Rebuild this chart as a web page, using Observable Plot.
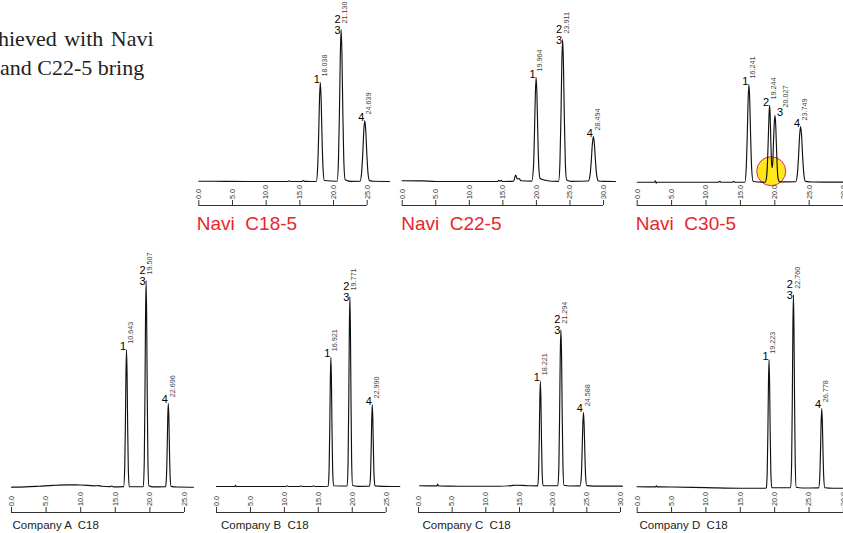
<!DOCTYPE html>
<html><head><meta charset="utf-8">
<script src="https://cdn.jsdelivr.net/npm/d3@7"></script>
<script src="https://cdn.jsdelivr.net/npm/@observablehq/plot@0.6"></script>
<style>
html,body{margin:0;padding:0;background:#fff;}
#wrap{position:relative;width:843px;height:533px;overflow:hidden;background:#fff;}
#wrap svg{position:absolute;left:0;top:0;}
.lbl{position:absolute;white-space:pre;font-family:"Liberation Sans",Arial,sans-serif;line-height:1;}
.red{color:#e8262b;font-size:19px;}
.cmp{color:#222;font-size:11.5px;}
.serif{position:absolute;font-family:"Liberation Serif","Times New Roman",serif;font-size:22px;line-height:28.5px;color:#222;white-space:pre;}
</style></head><body><div id="wrap"></div>
<script>
// ---------- data ----------
const ticks25 = [0, 5, 10, 15, 20, 25];
const ticks30 = [0, 5, 10, 15, 20, 25, 30];
const introLines = ["hieved with Navi", "and C22-5 bring"];
const panelTitles = ["Navi  C18-5", "Navi  C22-5", "Navi  C30-5"];
const companyTitles = ["Company A  C18", "Company B  C18", "Company C  C18", "Company D  C18"];

// Navi C18-5 (time min, signal)
const naviC18Trace = [[0,0.3],[4,0.2],[9,0],[13.2,0],[13.4,0.8],[13.6,0],[15.3,0],[15.5,1],[15.75,0.1],[17.44,0],
 [17.64,13.4],[17.79,45.3],[17.92,82.7],[18.038,99],[18.16,82.7],[18.29,45.3],[18.44,13.4],[18.64,1],
 [20.53,0.3],[20.73,20.5],[20.88,69.6],[21.01,126.9],[21.13,152],[21.25,126.9],[21.38,69.6],[21.53,20.5],[21.73,1.7],[22.5,0.2],
 [23.94,0.3],[24.16,8.2],[24.34,27.9],[24.5,51.5],[24.639,61],[24.78,51.5],[24.94,27.9],[25.12,8.2],[25.34,0.9],[26,0.2],[28.3,0]];
const naviC18PeakT = [18.038, 21.13, 24.639];
const naviC18PeakH = [99, 152, 61];
const naviC18Num = ["1", "2\n3", "4"];
const naviC18RT = ["18.038", "21.130", "24.639"];

// Navi C22-5
const naviC22Trace = [[0,0.8],[3,0.6],[5,0],[14.2,0],[14.4,1.2],[14.55,0.2],[14.75,1.2],[14.95,0],[16.6,0.3],[16.9,6.5],[17.15,2.5],[17.4,3],[17.7,0.8],[19.3,0.4],
 [19.56,14],[19.71,47.6],[19.84,86.8],[19.964,104],[20.08,86.8],[20.21,47.6],[20.36,14],[20.56,3],[20.9,2],[21.5,1],[22.3,0.3],
 [23.31,0.2],[23.51,19.2],[23.66,65],[23.79,118.6],[23.911,142],[24.03,118.6],[24.16,65],[24.31,19.2],[24.51,1.6],[25.2,0.2],
 [27.74,0.5],[27.99,6.1],[28.19,21.9],[28.34,37.6],[28.494,45],[28.64,37.6],[28.79,21.9],[28.99,6.1],[29.24,0.5],[30,0.1],[31.8,0]];
const naviC22PeakT = [19.964, 23.911, 28.494];
const naviC22PeakH = [104, 142, 45];
const naviC22Num = ["1", "2\n3", "4"];
const naviC22RT = ["19.964", "23.911", "28.494"];

// Navi C30-5
const naviC30Trace = [[0,0],[2.55,0],[2.65,1.5],[2.75,-1],[2.85,0],[11.8,0],[12,0.8],[12.2,0],[13.8,0],[14,0.8],[14.2,0],[15.64,0],
 [15.84,13.2],[15.99,44.7],[16.12,81.6],[16.241,97.7],[16.36,81.6],[16.49,44.7],[16.64,13.2],[16.84,1],[17.5,0.2],
 [18.6,0],[18.8,5],[18.95,22],[19.08,50],[19.18,70],[19.244,76.7],[19.32,68],[19.42,42],[19.52,20],[19.62,14.5],[19.72,22],[19.82,42],[19.93,60],[20.027,66.7],[20.12,59],[20.23,38],[20.36,14],[20.5,3],[20.7,0.3],
 [23.05,0.5],[23.27,7.5],[23.45,25.5],[23.61,47],[23.749,55.7],[23.89,47],[24.05,25.5],[24.23,7.5],[24.45,0.8],[25.5,0.2],[31,0]];
const naviC30PeakT = [16.241, 19.244, 20.027, 23.749];
const naviC30PeakH = [97.7, 76.7, 66.7, 55.7];
const naviC30Num = ["1", "2", "3", "4"];
const naviC30RT = ["16.241", "19.244", "20.027", "23.749"];
const naviC30Highlight = [{t: 19.48, v: 11}];

// Company A C18
const compATrace = [[0,0],[2,0.3],[4,1],[6,1.8],[8,2.3],[10,2.2],[12,1.4],[12.6,1.6],[13,1],[14.3,0.6],[14.5,1.2],[14.7,0.4],[16.2,0.6],
 [16.36,18.5],[16.46,64.4],[16.54,113.6],[16.62,137.4],[16.7,113.6],[16.78,64.4],[16.88,18.5],[17.02,0.5],
 [19.05,0.5],[19.19,27.9],[19.29,96.9],[19.37,170.9],[19.45,206.7],[19.53,170.9],[19.61,96.9],[19.71,27.9],[19.85,1.5],[20.5,0.3],
 [22.26,0.4],[22.4,11.3],[22.5,39.4],[22.58,69.5],[22.66,84],[22.74,69.5],[22.82,39.4],[22.92,11.3],[23.06,0.8],[24,0.2],[26.3,0]];
const compAPeakT = [16.62, 19.45, 22.66];
const compAPeakH = [137.4, 206.7, 84];
const compANum = ["1", "2\n3", "4"];
const compART = ["10.643", "19.507", "22.696"];

// Company B C18
const compBTrace = [[0,0],[2.7,0],[2.8,1.2],[2.9,0],[10.2,0],[10.4,0.7],[10.6,0],[12.2,0],[12.4,0.7],[12.6,0],[14.1,0],[14.3,0.7],[14.5,0],[16.45,0.3],
 [16.59,17.5],[16.69,60.6],[16.77,106.9],[16.85,129.3],[16.93,106.9],[17.01,60.6],[17.11,17.5],[17.25,0.8],
 [19.25,0.5],[19.39,25.7],[19.49,89.1],[19.57,157.1],[19.65,190],[19.73,157.1],[19.81,89.1],[19.91,25.7],[20.05,1],[20.8,0.2],
 [22.55,0.3],[22.69,11.1],[22.79,38.5],[22.87,67.8],[22.95,82],[23.03,67.8],[23.11,38.5],[23.21,11.1],[23.35,0.6],[24.5,0.1],[27,0]];
const compBPeakT = [16.85, 19.65, 22.95];
const compBPeakH = [129.3, 190, 82];
const compBNum = ["1", "2\n3", "4"];
const compBRT = ["16.921", "19.771", "22.990"];

// Company C C18
const compCTrace = [[0.2,0.5],[2,0.3],[2.75,0.3],[2.85,2.2],[2.95,0.3],[6,0],[12,0],[13.8,0.6],[14.5,1],[15.5,0.8],[16.5,0.4],[17.7,0.3],
 [17.84,14.2],[17.94,49.2],[18.02,86.8],[18.1,105],[18.18,86.8],[18.26,49.2],[18.36,14.2],[18.5,0.5],
 [20.7,0.5],[20.85,21.1],[20.96,73.4],[21.05,129.3],[21.15,156.4],[21.25,129.3],[21.34,73.4],[21.45,21.1],[21.6,1],[22.5,0.2],
 [24.0,0.3],[24.18,10],[24.3,34.7],[24.4,61.2],[24.5,74],[24.6,61.2],[24.7,34.7],[24.82,10],[25.0,0.6],[26,0.1],[30.3,0]];
const compCPeakT = [18.1, 21.15, 24.5];
const compCPeakH = [105, 156.4, 74];
const compCNum = ["1", "2\n3", "4"];
const compCRT = ["18.221", "21.294", "24.588"];

// Company D C18
const compDTrace = [[0,1.5],[2.7,1.3],[2.8,2.5],[2.9,1.3],[5,1.2],[10,0.6],[15,0],[18.7,0],[18.78,0.5],
 [18.92,17.3],[19.02,60.2],[19.1,106.2],[19.18,128.4],[19.26,106.2],[19.34,60.2],[19.44,17.3],[19.58,0.5],
 [22.33,0.5],[22.47,26.1],[22.57,90.7],[22.65,159.9],[22.73,193.4],[22.81,159.9],[22.89,90.7],[22.99,26.1],[23.13,1],[24,0.2],
 [26.4,0.3],[26.56,10.8],[26.67,37.5],[26.76,66.2],[26.85,80],[26.94,66.2],[27.03,37.5],[27.14,10.8],[27.3,0.5],[28.5,0],[31,0]];
const compDPeakT = [19.18, 22.73, 26.85];
const compDPeakH = [128.4, 193.4, 80];
const compDNum = ["1", "2\n3", "4"];
const compDRT = ["19.223", "22.760", "26.778"];

// ---------- layout ----------
const FONT = "Liberation Sans, Arial, Helvetica, sans-serif";
const panels = [
  {trace: naviC18Trace, pT: naviC18PeakT, pH: naviC18PeakH, num: naviC18Num, rt: naviC18RT, ticks: ticks25, xr: [198.3, 366.7], base: 181, axis: 205},
  {trace: naviC22Trace, pT: naviC22PeakT, pH: naviC22PeakH, num: naviC22Num, rt: naviC22RT, ticks: ticks30, xr: [401.7, 603], base: 181, axis: 205},
  {trace: naviC30Trace, pT: naviC30PeakT, pH: naviC30PeakH, num: naviC30Num, rt: naviC30RT, ticks: ticks30, xr: [636.7, 843.1], base: 181.7, axis: 205, right: [2], hl: naviC30Highlight},
  {trace: compATrace, pT: compAPeakT, pH: compAPeakH, num: compANum, rt: compART, ticks: ticks25, xr: [11, 184], base: 486.7, axis: 512},
  {trace: compBTrace, pT: compBPeakT, pH: compBPeakH, num: compBNum, rt: compBRT, ticks: ticks25, xr: [216, 385.7], base: 486, axis: 512},
  {trace: compCTrace, pT: compCPeakT, pH: compCPeakH, num: compCNum, rt: compCRT, ticks: ticks30, xr: [418, 620], base: 485.7, axis: 512},
  {trace: compDTrace, pT: compDPeakT, pH: compDPeakH, num: compDNum, rt: compDRT, ticks: ticks30, xr: [636.7, 842.9], base: 487.7, axis: 512}
];

const wrap = document.getElementById("wrap");

function drawPanel(cfg) {
  const trace = cfg.trace.map(([t, v]) => ({t, v}));
  const right = cfg.right || [];
  const peaks = cfg.pT.map((t, i) => ({t, h: cfg.pH[i], num: cfg.num[i], rt: cfg.rt[i], i}));
  const leftPk = peaks.filter(p => !right.includes(p.i));
  const rightPk = peaks.filter(p => right.includes(p.i));
  const single = leftPk.filter(p => !p.num.includes("\n"));
  const dbl = leftPk.filter(p => p.num.includes("\n"));
  const ticks = cfg.ticks;
  const gap = cfg.axis - cfg.base;
  const marks = [];
  if (cfg.hl) marks.push(Plot.dot(cfg.hl, {x: "t", y: "v", r: 14.5, fill: "#ffe81a", stroke: "#d8287c", strokeWidth: 1}));
  marks.push(
    Plot.line(trace, {x: "t", y: "v", stroke: "#111", strokeWidth: 1.15, curve: "monotone-x"}),
    Plot.ruleY([0], {x1: ticks[0], x2: ticks[ticks.length - 1], dy: gap, stroke: "#333", strokeWidth: 1}),
    Plot.ruleX(ticks, {x: d => d, y1: 0, y2: 0, insetTop: gap - 5, insetBottom: -gap, stroke: "#333", strokeWidth: 1}),
    Plot.text(ticks, {x: d => d, y: 0, text: d => d.toFixed(1), rotate: -90, textAnchor: "start", lineAnchor: "middle", dy: gap - 6.5, fontSize: 7.2, fill: "#333", fontFamily: FONT}),
    Plot.text(single, {x: "t", y: "h", text: "num", textAnchor: "end", lineAnchor: "bottom", dx: -0.5, fontSize: 11, fill: "#000", fontFamily: FONT}),
    Plot.text(dbl, {x: "t", y: "h", text: "num", textAnchor: "end", lineAnchor: "bottom", dx: -0.5, dy: 4, fontSize: 11, fill: "#000", fontFamily: FONT}),
    Plot.text(leftPk, {x: "t", y: "h", text: "rt", rotate: -90, textAnchor: "start", lineAnchor: "middle", dx: 4, dy: -6, fontSize: 7.2, fill: "#444", fontFamily: FONT}),
    Plot.text(rightPk, {x: "t", y: "h", text: "num", textAnchor: "start", lineAnchor: "bottom", dx: 2, fontSize: 11, fill: "#000", fontFamily: FONT}),
    Plot.text(rightPk, {x: "t", y: "h", text: "rt", rotate: -90, textAnchor: "start", lineAnchor: "middle", dx: 11, dy: -8, fontSize: 7.2, fill: "#444", fontFamily: FONT})
  );
  const svg = Plot.plot({
    width: 843, height: 533, margin: 0,
    x: {domain: [ticks[0], ticks[ticks.length - 1]], range: cfg.xr, axis: null},
    y: {domain: [0, 100], range: [cfg.base, cfg.base - 100], axis: null},
    style: {background: "none", overflow: "visible", maxWidth: "none", fontFamily: FONT},
    marks
  });
  wrap.appendChild(svg);
}
panels.forEach(drawPanel);

// texts
function addDiv(cls, text, left, top, extra) {
  const d = document.createElement("div");
  d.className = cls;
  d.textContent = text;
  d.style.left = left + "px";
  d.style.top = top + "px";
  if (extra) Object.assign(d.style, extra);
  wrap.appendChild(d);
}
addDiv("serif", introLines[0], -2, 25.3, {wordSpacing: "2px"});
addDiv("serif", introLines[1], 0, 53.8);
[196.8, 401.2, 635.8].forEach((x, i) => addDiv("lbl red", panelTitles[i], x, 213.9));
[12.5, 221, 422.5, 639.5].forEach((x, i) => addDiv("lbl cmp", companyTitles[i], x, 519.5));
</script></body></html>
